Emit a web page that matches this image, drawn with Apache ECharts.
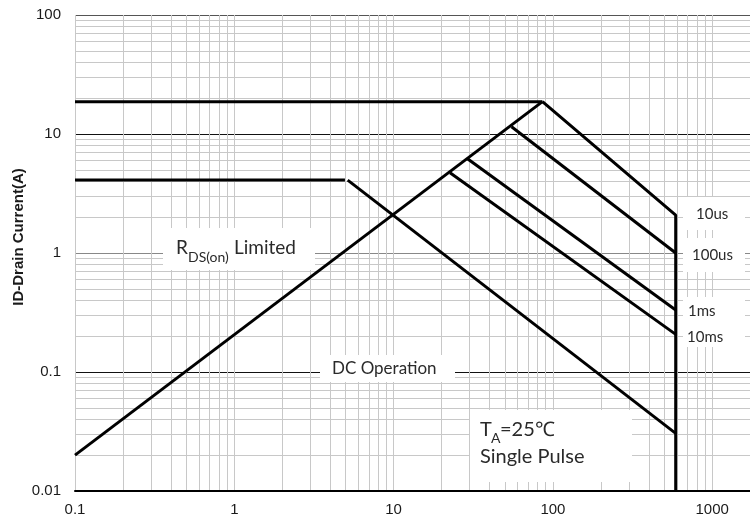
<!DOCTYPE html>
<html><head><meta charset="utf-8">
<script src="https://cdn.jsdelivr.net/npm/echarts@6/dist/echarts.min.js"></script>
<style>html,body{margin:0;padding:0;background:#fff}#c{width:750px;height:521px}</style>
</head><body><div id="c"></div>
<script>
// Tick labels
const xTicks = [0.1, 1, 10, 100, 1000];
const yTicks = [0.01, 0.1, 1, 10, 100];
// Safe operating area boundaries [Vds (V), Id (A)]
const rdsLimitH = [[0.1, 18.7], [86, 18.7]];
const rdsLimitDiag = [[0.1, 0.02], [86, 18.7]];
const pulse10us = [[86, 18.7], [590, 2.08], [590, 0.01]];
const pulse100us = [[55, 11.5], [590, 1.0]];
const pulse1ms = [[28.8, 6.25], [590, 0.332]];
const pulse10ms = [[22.6, 4.73], [590, 0.207]];
const dcFlat = [[0.1, 4.1], [4.95, 4.1]];
const dcSlope = [[5.15, 4.1], [590, 0.0305]];
const pulseLabels = ['10us', '100us', '1ms', '10ms'];

const fmt = v => { const n = Number(Number(v).toPrecision(3)); return String(n); };
const annFont = 'Lato, "Open Sans", sans-serif';
const chart = echarts.init(document.getElementById('c'), null, {renderer: 'canvas'});
const lineSeries = (name, data) => ({
  name, type: 'line', data, symbol: 'none', animation: false,
  lineStyle: {color: '#000', width: 3}, z: 5
});
const txt = (text, x, y, size, extra) => Object.assign({
  type: 'text', x, y, z: 101,
  style: {text, font: size + 'px ' + annFont, fill: '#2a2a2a',
    align: 'left', verticalAlign: 'middle', textAlign: 'left', textVerticalAlign: 'middle'}
}, extra || {});
const box = (x, y, w, h) => ({type: 'rect', x, y, z: 100, shape: {x: 0, y: 0, width: w, height: h}, style: {fill: '#fff'}});

chart.setOption({
  animation: false,
  backgroundColor: '#fff',
  grid: {left: 75, top: 15, right: -121.5, bottom: 30, containLabel: false, outerBoundsMode: 'none'},
  xAxis: {
    type: 'log', logBase: 10, min: 0.1, max: 10000,
    axisLine: {show: true, onZero: false, lineStyle: {color: '#000', width: 2}},
    axisTick: {show: false},
    axisLabel: {margin: 11, fontFamily: '"Liberation Sans", Arial, sans-serif', fontSize: 15, color: '#1a1a1a',
      formatter: v => xTicks.some(t => Math.abs(t - v) / t < 1e-6) ? fmt(v) : ''},
    splitLine: {show: true, lineStyle: {color: '#c8c8c8', width: 1}},
    minorTick: {show: false, splitNumber: 9},
    minorSplitLine: {show: true, lineStyle: {color: '#c8c8c8', width: 1}}
  },
  yAxis: {
    type: 'log', logBase: 10, min: 0.01, max: 100,
    axisLine: {show: false},
    axisTick: {show: false},
    axisLabel: {margin: 14, fontFamily: '"Liberation Sans", Arial, sans-serif', fontSize: 15, color: '#1a1a1a',
      formatter: v => yTicks.some(t => Math.abs(t - v) / t < 1e-6) ? fmt(v) : ''},
    splitLine: {show: true, lineStyle: {color: ['#000', '#111', '#888', '#111', '#555'], width: 1}},
    minorTick: {show: false, splitNumber: 9},
    minorSplitLine: {show: true, lineStyle: {color: '#c8c8c8', width: 1}}
  },
  series: [
    lineSeries('RDS limit', rdsLimitH),
    lineSeries('RDS diag', rdsLimitDiag),
    lineSeries('10us', pulse10us),
    lineSeries('100us', pulse100us),
    lineSeries('1ms', pulse1ms),
    lineSeries('10ms', pulse10ms),
    lineSeries('DC flat', dcFlat),
    lineSeries('DC', dcSlope)
  ],
  graphic: [
    {type: 'text', x: 19, y: 237, rotation: Math.PI / 2, z: 101,
      style: {text: 'ID-Drain Current(A)', font: 'bold 15px "Liberation Sans", Arial, sans-serif', fill: '#1a1a1a',
        align: 'center', verticalAlign: 'middle', textAlign: 'center', textVerticalAlign: 'middle'}},
    box(163, 228, 152, 42),
    txt('R', 176, 248, 19),
    txt('DS(on)', 188, 257, 14),
    txt('Limited', 234, 248, 19),
    box(320, 355, 135, 27),
    txt('DC Operation', 332, 369, 17),
    box(470, 410, 162, 72),
    txt('T', 480, 430, 20),
    txt('A', 491, 438, 14),
    txt('=25\u2103', 500, 430, 20),
    txt('Single Pulse', 480, 457, 20),
    box(683, 197, 62, 33),
    box(683, 238, 62, 34),
    box(683, 297, 62, 50),
    txt(pulseLabels[0], 696, 214, 15),
    txt(pulseLabels[1], 692, 255, 15),
    txt(pulseLabels[2], 688, 311, 15),
    txt(pulseLabels[3], 687, 337, 15)
  ]
});
</script></body></html>
